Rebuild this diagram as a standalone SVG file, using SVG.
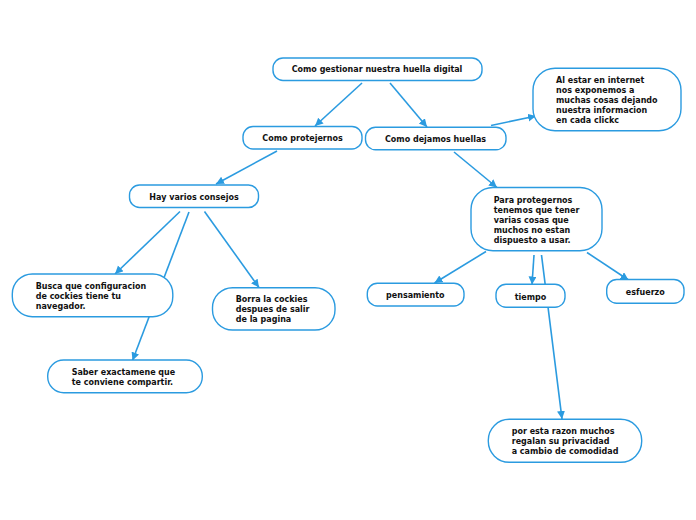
<svg xmlns="http://www.w3.org/2000/svg" width="696" height="520" viewBox="0 0 696 520">
<style>
.n{fill:#fff;stroke:#2b9be0;stroke-width:1.4}
.c{fill:none;stroke:#2b9be0;stroke-width:1.6;marker-end:url(#ah)}
.c0{fill:none;stroke:#2b9be0;stroke-width:1.6}
text{font-family:"DejaVu Sans",Verdana,sans-serif;font-weight:bold;font-size:8px;fill:#111}
.m{text-anchor:middle}
</style>
<defs>
<marker id="ah" markerUnits="userSpaceOnUse" markerWidth="10" markerHeight="10" refX="8" refY="4" orient="auto">
<path d="M0,0 L8,4 L0,8 Z" fill="#2b9be0"/>
</marker>
</defs>
<rect width="696" height="520" fill="#fff"/>
<g id="connectors">
<line class="c" x1="362" y1="83" x2="315" y2="126"/>
<line class="c" x1="390" y1="83" x2="427" y2="127"/>
<line class="c" x1="491" y1="125.5" x2="536" y2="116"/>
<line class="c" x1="277" y1="151" x2="216" y2="184"/>
<line class="c" x1="454" y1="152" x2="497" y2="187.5"/>
<line class="c" x1="180" y1="211.5" x2="115" y2="274"/>
<line class="c" x1="189" y1="212" x2="132.5" y2="360.5"/>
<line class="c" x1="204.5" y1="211.5" x2="259" y2="287.5"/>
<line class="c" x1="486" y1="251.5" x2="434.5" y2="283"/>
<line class="c" x1="534" y1="255" x2="532" y2="284.5"/>
<line class="c" x1="541.5" y1="255" x2="562" y2="419"/>
<line class="c" x1="587" y1="252.5" x2="628.5" y2="280"/>
</g>
<g id="n1"><rect class="n" x="273" y="58" width="209" height="22.5" rx="10"/><text class="m" x="377" y="72">Como gestionar nuestra huella digital</text></g>
<g id="n2"><rect class="n" x="243" y="126.5" width="119" height="22.5" rx="10"/><text class="m" x="302.5" y="141">Como protejernos</text></g>
<g id="n3"><rect class="n" x="365.5" y="127.3" width="140.5" height="22.5" rx="10"/><text class="m" x="435.5" y="142">Como dejamos huellas</text></g>
<g id="n4"><rect class="n" x="533" y="68.3" width="148" height="62.4" rx="22"/><text x="556" y="83">Al estar en internet</text><text x="556" y="93">nos exponemos a</text><text x="556" y="103">muchas cosas dejando</text><text x="556" y="113">nuestra informacion</text><text x="556" y="123">en cada clickc</text></g>
<g id="n5"><rect class="n" x="129.5" y="185" width="129" height="22.5" rx="10"/><text class="m" x="194" y="200">Hay varios consejos</text></g>
<g id="n6"><rect class="n" x="12.3" y="274" width="160.5" height="42.7" rx="20"/><text x="35.7" y="289">Busca que configuracion</text><text x="35.7" y="299">de cockies tiene tu</text><text x="35.7" y="309">navegador.</text></g>
<g id="n7"><rect class="n" x="212.5" y="287.7" width="122.5" height="42.3" rx="20"/><text x="235.7" y="302">Borra la cockies</text><text x="235.7" y="312">despues de salir</text><text x="235.7" y="322">de la pagina</text></g>
<g id="n8"><rect class="n" x="47.7" y="360" width="154.6" height="32.7" rx="16"/><text x="71.7" y="375">Saber exactamene que</text><text x="71.7" y="385">te conviene compartir.</text></g>
<g id="n9"><rect class="n" x="471" y="187.5" width="131" height="63.2" rx="22"/><text x="493.7" y="203">Para protegernos</text><text x="493.7" y="213">tenemos que tener</text><text x="493.7" y="223">varias cosas que</text><text x="493.7" y="233">muchos no estan</text><text x="493.7" y="243">dispuesto a usar.</text></g>
<g id="n10"><rect class="n" x="367.3" y="283.3" width="96.7" height="22.7" rx="10"/><text class="m" x="415.3" y="298">pensamiento</text></g>
<g id="n11"><rect class="n" x="496" y="284.3" width="69" height="23" rx="10"/><text class="m" x="530.5" y="299.5">tiempo</text></g>
<g id="n12"><rect class="n" x="606.7" y="279.5" width="77.3" height="23.8" rx="10"/><text class="m" x="645.3" y="294.5">esfuerzo</text></g>
<g id="n13"><rect class="n" x="488.3" y="419.3" width="153.4" height="43" rx="21"/><text x="511.7" y="434">por esta razon muchos</text><text x="511.7" y="444">regalan su privacidad</text><text x="511.7" y="454">a cambio de comodidad</text></g>
</svg>
